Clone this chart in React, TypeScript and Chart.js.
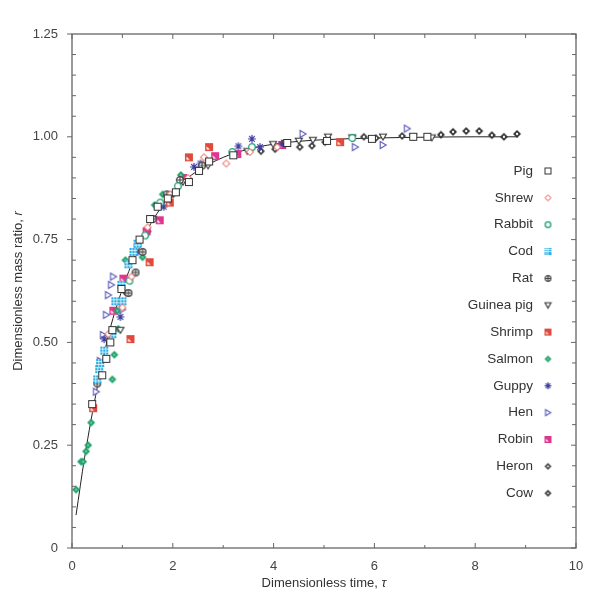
import { useEffect, useRef } from 'react';
import Chart from 'chart.js/auto';

// fitted growth curve
const curveTau = [0.08, 0.25, 0.5, 0.75, 1, 1.25, 1.5, 1.75, 2, 2.25, 2.5, 3, 3.5, 4, 4.5, 5, 6, 7, 8, 8.85];
const curveR = [0.08, 0.22, 0.39, 0.53, 0.63, 0.71, 0.775, 0.825, 0.865, 0.895, 0.918, 0.95, 0.97, 0.982, 0.989, 0.993, 0.997, 0.999, 1.0, 1.0];

// [tau, r] per species
const pigPoints = [[0.4, 0.35], [0.6, 0.42], [0.68, 0.46], [0.76, 0.5], [0.8, 0.53], [0.98, 0.63], [1.2, 0.7], [1.34, 0.75], [1.55, 0.8], [1.7, 0.83], [1.9, 0.85], [2.06, 0.865], [2.32, 0.89], [2.52, 0.917], [2.72, 0.94], [3.2, 0.955], [4.27, 0.985], [5.06, 0.99], [5.95, 0.995], [6.77, 1.0], [7.05, 1.0]];
const shrewPoints = [[0.72, 0.52], [1.0, 0.585], [1.18, 0.66], [1.5, 0.78], [1.95, 0.86], [2.3, 0.9], [2.62, 0.95], [3.06, 0.935], [3.53, 0.963], [4.07, 0.975]];
const rabbitPoints = [[1.14, 0.65], [1.45, 0.76], [1.75, 0.84], [2.1, 0.88], [3.18, 0.963], [3.57, 0.975], [5.56, 0.997]];
const codPoints = [[0.5, 0.41], [0.54, 0.435], [0.56, 0.45], [0.64, 0.48], [0.8, 0.52], [0.86, 0.6], [0.98, 0.64], [1.0, 0.6], [1.12, 0.69], [1.22, 0.72], [1.3, 0.74]];
const ratPoints = [[0.5, 0.4], [1.12, 0.62], [1.26, 0.67], [1.4, 0.72], [1.6, 0.8], [1.88, 0.86], [2.14, 0.895], [2.58, 0.93]];
const guineaPigPoints = [[0.96, 0.53], [1.3, 0.73], [1.6, 0.8], [2.2, 0.89], [2.7, 0.93], [3.48, 0.965], [3.99, 0.982], [4.23, 0.985], [4.5, 0.99], [4.78, 0.992], [5.08, 1.0], [5.56, 0.998], [6.17, 1.0], [6.77, 1.0], [7.14, 0.998]];
const shrimpPoints = [[0.42, 0.34], [1.16, 0.508], [1.54, 0.695], [1.94, 0.84], [2.32, 0.95], [2.72, 0.975], [5.32, 0.987]];
const salmonPoints = [[0.08, 0.142], [0.18, 0.21], [0.22, 0.21], [0.28, 0.235], [0.32, 0.25], [0.38, 0.305], [0.8, 0.41], [0.84, 0.47], [0.92, 0.533], [0.9, 0.577], [1.06, 0.7], [1.4, 0.707], [1.64, 0.834], [1.8, 0.86], [2.16, 0.907]];
const guppyPoints = [[0.64, 0.508], [0.96, 0.562], [1.3, 0.72], [1.82, 0.83], [2.42, 0.927], [2.55, 0.935], [3.3, 0.977], [3.57, 0.995], [3.73, 0.975], [4.17, 0.982]];
const henPoints = [[0.48, 0.38], [0.56, 0.455], [0.62, 0.518], [0.68, 0.567], [0.72, 0.615], [0.78, 0.64], [0.82, 0.66], [1.0, 0.58], [4.58, 1.007], [5.62, 0.975], [6.17, 0.98], [6.65, 1.02]];
const robinPoints = [[0.82, 0.577], [1.02, 0.655], [1.48, 0.77], [1.74, 0.797], [2.2, 0.9], [2.84, 0.953], [3.28, 0.958], [4.17, 0.98]];
const heronPoints = [[3.75, 0.965], [4.03, 0.97], [4.52, 0.975], [4.76, 0.978], [5.02, 0.987], [5.79, 1.0], [6.03, 0.997], [6.55, 1.002]];
const cowPoints = [[1.08, 0.62], [1.5, 0.77], [2.0, 0.86], [7.32, 1.005], [7.56, 1.012], [7.82, 1.014], [8.08, 1.014], [8.33, 1.004], [8.57, 1.0], [8.83, 1.007]];

const speciesNames = ['Pig', 'Shrew', 'Rabbit', 'Cod', 'Rat', 'Guinea pig', 'Shrimp', 'Salmon', 'Guppy', 'Hen', 'Robin', 'Heron', 'Cow'];
const speciesPoints = [pigPoints, shrewPoints, rabbitPoints, codPoints, ratPoints, guineaPigPoints, shrimpPoints, salmonPoints, guppyPoints, henPoints, robinPoints, heronPoints, cowPoints];
const speciesMarkers = ['square', 'diamond', 'circle', 'gridSquare', 'crossCircle', 'triDown', 'flagSquare', 'dot', 'star', 'triRight', 'flagSquare', 'darkDiamond', 'darkDiamond'];
const speciesColors = ['#333333', '#e8453c', '#1f9e70', '#2aaee2', '#444444', '#333333', '#e04a3c', '#22a36c', '#3c3ca0', '#5a5ab8', '#e0358f', '#444444', '#333333'];

const X_MAJOR = [0, 2, 4, 6, 8, 10];
const X_MINOR = [1, 3, 5, 7, 9];
const Y_MAJOR = [0, 0.25, 0.5, 0.75, 1.0, 1.25];

const FONT = '"Liberation Sans", Arial, Helvetica, sans-serif';

function makeMarker(kind: string, color: string, size: number): HTMLCanvasElement {
  const c = document.createElement('canvas');
  const d = size + 2;
  c.width = d;
  c.height = d;
  const g = c.getContext('2d')!;
  const m = d / 2;
  const h = size / 2;
  g.lineWidth = 1;
  g.strokeStyle = color;
  g.fillStyle = color;
  switch (kind) {
    case 'square':
      g.fillStyle = '#fff';
      g.fillRect(m - h, m - h, size, size);
      g.strokeRect(m - h + 0.5, m - h + 0.5, size - 1, size - 1);
      break;
    case 'diamond':
      g.beginPath();
      g.moveTo(m, m - h + 0.5); g.lineTo(m + h - 0.5, m); g.lineTo(m, m + h - 0.5); g.lineTo(m - h + 0.5, m); g.closePath();
      g.fillStyle = '#fff'; g.fill(); g.stroke();
      break;
    case 'circle':
      g.beginPath();
      g.arc(m, m, h - 0.7, 0, Math.PI * 2);
      g.fillStyle = '#fff'; g.fill(); g.lineWidth = 1.3; g.stroke();
      break;
    case 'gridSquare': {
      // cyan square split into a 3x3 grid by thin white lines
      g.fillRect(1, 1, size, size);
      g.fillStyle = 'rgba(255,255,255,0.7)';
      const cell = Math.floor((size - 2) / 3);
      const a = 1 + cell;
      const b = 2 + 2 * cell;
      g.fillRect(a, 1, 1, size);
      g.fillRect(b, 1, 1, size);
      g.fillRect(1, a, size, 1);
      g.fillRect(1, b, size, 1);
      break;
    }
    case 'crossCircle':
      g.beginPath();
      g.arc(m, m, h - 0.6, 0, Math.PI * 2);
      g.fillStyle = '#fff'; g.fill(); g.lineWidth = 1.2; g.stroke();
      g.beginPath();
      g.moveTo(m - h + 1, m); g.lineTo(m + h - 1, m);
      g.moveTo(m, m - h + 1); g.lineTo(m, m + h - 1);
      g.stroke();
      break;
    case 'triDown':
      g.beginPath();
      g.moveTo(m - h + 0.5, m - h * 0.7); g.lineTo(m + h - 0.5, m - h * 0.7); g.lineTo(m, m + h * 0.8); g.closePath();
      g.fillStyle = '#fff'; g.fill(); g.lineWidth = 1.1; g.stroke();
      break;
    case 'triRight':
      g.beginPath();
      g.moveTo(m - h * 0.7, m - h + 0.5); g.lineTo(m - h * 0.7, m + h - 0.5); g.lineTo(m + h * 0.8, m); g.closePath();
      g.fillStyle = '#fff'; g.fill(); g.lineWidth = 1.1; g.stroke();
      break;
    case 'flagSquare':
      g.fillRect(m - h, m - h, size, size);
      g.fillStyle = '#fff';
      g.beginPath();
      g.moveTo(m - h + 1.5, m + h - 1.5); g.lineTo(m + h * 0.2, m + h - 1.5); g.lineTo(m - h + 1.5, m - h * 0.2); g.closePath();
      g.fill();
      break;
    case 'dot':
      g.beginPath();
      g.moveTo(m, m - h); g.lineTo(m + h, m); g.lineTo(m, m + h); g.lineTo(m - h, m); g.closePath();
      g.fill();
      g.fillStyle = 'rgba(255,255,255,0.55)';
      g.fillRect(m - 0.8, m - 0.8, 1.6, 1.6);
      break;
    case 'star':
      g.lineWidth = 1.2;
      g.beginPath();
      g.moveTo(m, m - h); g.lineTo(m, m + h);
      g.moveTo(m - h, m); g.lineTo(m + h, m);
      g.moveTo(m - h * 0.7, m - h * 0.7); g.lineTo(m + h * 0.7, m + h * 0.7);
      g.moveTo(m + h * 0.7, m - h * 0.7); g.lineTo(m - h * 0.7, m + h * 0.7);
      g.stroke();
      break;
    case 'darkDiamond':
      g.beginPath();
      g.moveTo(m, m - h); g.lineTo(m + h, m); g.lineTo(m, m + h); g.lineTo(m - h, m); g.closePath();
      g.fill();
      g.fillStyle = '#fff';
      g.beginPath();
      g.arc(m, m, h * 0.3, 0, Math.PI * 2);
      g.fill();
      break;
  }
  return c;
}

export default function App() {
  const canvasRef = useRef<HTMLCanvasElement | null>(null);
  const chartRef = useRef<Chart | null>(null);

  useEffect(() => {
    if (!canvasRef.current) return;

    const plotMarkers = speciesNames.map((_, i) => makeMarker(speciesMarkers[i], speciesColors[i], 8));
    const legendMarkers = speciesNames.map((_, i) => makeMarker(speciesMarkers[i], speciesColors[i], 7));

    const datasets: any[] = speciesNames.map((name, i) => ({
      label: name,
      data: speciesPoints[i].map(([x, y]) => ({ x, y })),
      pointStyle: plotMarkers[i],
      pointRadius: 4,
      showLine: false,
      order: 1
    }));

    datasets.push({
      label: 'fit',
      data: curveTau.map((x, i) => ({ x, y: curveR[i] })),
      showLine: true,
      borderColor: '#222',
      borderWidth: 1,
      pointRadius: 0,
      tension: 0.4,
      cubicInterpolationMode: 'monotone',
      order: 5
    });

    // axis frame with inward / outward ticks
    const frameTicks = {
      id: 'frameTicks',
      afterDraw(chart: any) {
        const { ctx, chartArea: { left, right, top, bottom }, scales: { x, y } } = chart;
        ctx.save();
        ctx.strokeStyle = '#666';
        ctx.lineWidth = 1.3;
        ctx.strokeRect(left, top, right - left, bottom - top);
        ctx.lineWidth = 1;
        ctx.beginPath();
        X_MAJOR.forEach(v => {
          const px = x.getPixelForValue(v);
          ctx.moveTo(px, bottom); ctx.lineTo(px, bottom - 5);
          ctx.moveTo(px, top); ctx.lineTo(px, top + 5);
        });
        X_MINOR.forEach(v => {
          const px = x.getPixelForValue(v);
          ctx.moveTo(px, bottom); ctx.lineTo(px, bottom - 3);
          ctx.moveTo(px, top); ctx.lineTo(px, top + 4);
        });
        Y_MAJOR.forEach(v => {
          const py = y.getPixelForValue(v);
          ctx.moveTo(left - 5, py); ctx.lineTo(left, py);
          ctx.moveTo(right, py); ctx.lineTo(right - 5, py);
        });
        for (let k = 0; k <= 25; k++) {
          if (k % 5 === 0) continue;
          const py = y.getPixelForValue(k * 0.05);
          ctx.moveTo(left, py); ctx.lineTo(left + 4, py);
          ctx.moveTo(right, py); ctx.lineTo(right - 4, py);
        }
        ctx.stroke();
        ctx.restore();
      }
    };

    // axis titles with italic symbols
    const axisTitles = {
      id: 'axisTitles',
      afterDraw(chart: any) {
        const { ctx, chartArea: { left, right, top, bottom } } = chart;
        const drawMixed = (plain: string, sym: string, cx: number, cy: number) => {
          ctx.font = `13px ${FONT}`;
          const w1 = ctx.measureText(plain).width;
          ctx.font = `italic 13px ${FONT}`;
          const w2 = ctx.measureText(sym).width;
          const start = cx - (w1 + w2) / 2;
          ctx.fillStyle = '#333';
          ctx.textBaseline = 'middle';
          ctx.textAlign = 'left';
          ctx.font = `13px ${FONT}`;
          ctx.fillText(plain, start, cy);
          ctx.font = `italic 13px ${FONT}`;
          ctx.fillText(sym, start + w1, cy);
        };
        ctx.save();
        drawMixed('Dimensionless time, ', '\u03c4', (left + right) / 2, 583);
        ctx.translate(18, (top + bottom) / 2);
        ctx.rotate(-Math.PI / 2);
        drawMixed('Dimensionless mass ratio, ', 'r', 0, 0);
        ctx.restore();
      }
    };

    // legend inside the plot: label then marker
    const sideLegend = {
      id: 'sideLegend',
      afterDraw(chart: any) {
        const { ctx } = chart;
        ctx.save();
        ctx.font = `13.5px ${FONT}`;
        ctx.fillStyle = '#333';
        ctx.textAlign = 'right';
        ctx.textBaseline = 'middle';
        speciesNames.forEach((name, i) => {
          const cy = 171 + i * 26.85;
          ctx.fillText(name, 533, cy);
          const mk = legendMarkers[i];
          ctx.drawImage(mk, 548 - mk.width / 2, cy - mk.height / 2);
        });
        ctx.restore();
      }
    };

    const config: any = {
      type: 'scatter',
      data: { datasets },
      options: {
        animation: false,
        responsive: true,
        maintainAspectRatio: false,
        devicePixelRatio: 1,
        layout: { padding: { top: 34, right: 24, left: 0, bottom: 0 } },
        plugins: {
          legend: { display: false },
          tooltip: { enabled: false }
        },
        scales: {
          x: {
            type: 'linear',
            min: 0,
            max: 10,
            grid: { display: false },
            border: { display: false },
            ticks: {
              stepSize: 2,
              padding: 3,
              color: '#444',
              font: { family: FONT, size: 13 }
            },
            afterFit: (s: any) => { s.height = 54; }
          },
          y: {
            type: 'linear',
            min: 0,
            max: 1.25,
            grid: { display: false },
            border: { display: false },
            ticks: {
              stepSize: 0.25,
              padding: 6,
              color: '#444',
              font: { family: FONT, size: 13 },
              callback: (v: any) => (v === 0 ? '0' : Number(v).toFixed(2))
            },
            afterFit: (s: any) => { s.width = 72; }
          }
        }
      },
      plugins: [frameTicks, axisTitles, sideLegend]
    };

    if (chartRef.current) chartRef.current.destroy();
    chartRef.current = new Chart(canvasRef.current, config);

    return () => {
      if (chartRef.current) {
        chartRef.current.destroy();
        chartRef.current = null;
      }
    };
  }, []);

  return (
    <div style={{ position: 'absolute', left: 0, top: 0, width: 600, height: 602, background: '#fff' }}>
      <canvas ref={canvasRef} />
    </div>
  );
}
